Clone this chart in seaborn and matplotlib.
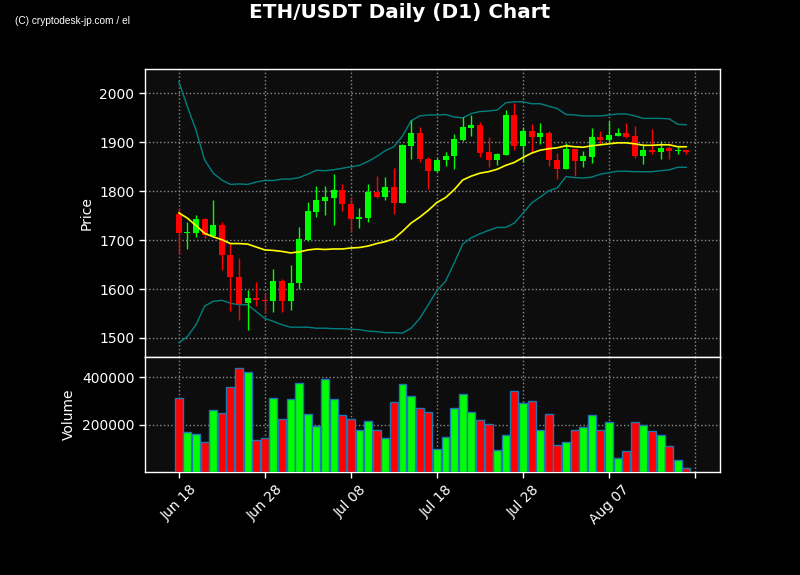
import pandas as pd
import matplotlib
matplotlib.use("Agg")
import matplotlib.pyplot as plt
import matplotlib.dates as mdates
import seaborn as sns

# --- Data ---
dates = pd.date_range("2023-06-18", periods=60, freq="D")

opens = [1754, 1714, 1714, 1744, 1709, 1731, 1669, 1625, 1571, 1582,
         1578, 1575, 1617, 1575, 1612, 1701, 1758, 1781, 1787, 1803,
         1774, 1744, 1746, 1799, 1789, 1809, 1777, 1893, 1919, 1866,
         1842, 1863, 1873, 1905, 1930, 1935, 1880, 1863, 1875, 1956,
         1893, 1923, 1911, 1919, 1864, 1846, 1886, 1861, 1871, 1911,
         1905, 1914, 1919, 1913, 1873, 1884, 1881, 1888, 1883, 1885]
closes = [1714, 1716, 1744, 1711, 1731, 1669, 1624, 1570, 1582, 1577,
          1575, 1617, 1575, 1613, 1703, 1759, 1782, 1789, 1803, 1773,
          1744, 1748, 1799, 1789, 1809, 1777, 1895, 1919, 1865, 1842,
          1864, 1873, 1907, 1931, 1935, 1879, 1863, 1876, 1956, 1893,
          1923, 1911, 1919, 1863, 1846, 1886, 1861, 1872, 1911, 1905,
          1915, 1919, 1911, 1873, 1884, 1881, 1888, 1883, 1885, 1880]
highs = [1765, 1738, 1751, 1745, 1782, 1738, 1695, 1663, 1599, 1614,
         1592, 1641, 1620, 1649, 1727, 1778, 1811, 1811, 1835, 1814,
         1789, 1765, 1814, 1831, 1829, 1847, 1897, 1946, 1931, 1871,
         1867, 1880, 1918, 1952, 1956, 1942, 1910, 1879, 1967, 1981,
         1932, 1937, 1939, 1923, 1878, 1899, 1887, 1883, 1929, 1923,
         1944, 1929, 1939, 1933, 1897, 1927, 1903, 1892, 1890, 1885]
lows = [1672, 1682, 1707, 1704, 1707, 1638, 1556, 1537, 1516, 1565,
        1551, 1553, 1553, 1558, 1600, 1699, 1747, 1751, 1731, 1760,
        1716, 1724, 1738, 1786, 1782, 1753, 1776, 1865, 1859, 1804,
        1840, 1852, 1845, 1902, 1912, 1871, 1849, 1853, 1874, 1884,
        1860, 1879, 1897, 1852, 1825, 1845, 1831, 1849, 1857, 1897,
        1899, 1914, 1908, 1869, 1855, 1876, 1865, 1865, 1877, 1876]
volumes = [310, 167, 161, 125, 261, 250, 357, 440, 423, 134,
           142, 310, 225, 307, 374, 245, 192, 390, 307, 241,
           225, 175, 216, 179, 142, 295, 370, 319, 269, 254,
           95, 146, 269, 328, 254, 221, 204, 92, 154, 341,
           291, 299, 179, 245, 113, 125, 175, 188, 241, 179,
           212, 59, 88, 212, 196, 171, 154, 109, 51, 19]
volumes = [v * 1000 for v in volumes]

sma20 = [1756, 1745, 1730, 1714, 1707, 1701, 1693, 1693, 1692, 1686,
         1680, 1679, 1677, 1674, 1676, 1680, 1682, 1681, 1682, 1682,
         1684, 1685, 1688, 1693, 1697, 1703, 1718, 1735, 1747, 1761,
         1777, 1787, 1803, 1823, 1831, 1837, 1840, 1845, 1853, 1859,
         1869, 1878, 1884, 1887, 1889, 1893, 1891, 1890, 1893, 1895,
         1897, 1899, 1899, 1897, 1894, 1894, 1895, 1895, 1891, 1891]
bb_upper = [2024, 1973, 1925, 1864, 1837, 1823, 1814, 1815, 1814, 1819,
            1822, 1822, 1825, 1825, 1828, 1835, 1843, 1842, 1844, 1847,
            1850, 1853, 1861, 1871, 1883, 1891, 1913, 1944, 1954, 1956,
            1956, 1957, 1952, 1950, 1959, 1963, 1964, 1966, 1981, 1983,
            1983, 1979, 1979, 1974, 1969, 1957, 1956, 1954, 1954, 1954,
            1956, 1958, 1958, 1954, 1949, 1949, 1949, 1948, 1937, 1936]
bb_lower = [1490, 1503, 1527, 1565, 1575, 1577, 1571, 1568, 1568, 1554,
            1540, 1534, 1527, 1522, 1522, 1522, 1520, 1520, 1519, 1519,
            1518, 1517, 1514, 1513, 1511, 1511, 1510, 1520, 1540, 1568,
            1597, 1616, 1653, 1692, 1705, 1713, 1720, 1726, 1726, 1735,
            1755, 1776, 1788, 1801, 1807, 1830, 1828, 1827, 1829, 1835,
            1838, 1841, 1841, 1840, 1840, 1840, 1842, 1844, 1849, 1849]

df = pd.DataFrame({
    "date": dates, "open": opens, "high": highs, "low": lows, "close": closes,
    "volume": volumes, "sma": sma20, "upper": bb_upper, "lower": bb_lower,
})

UP, DOWN = "#00ff00", "#ff0000"
BAND = "#008080"

# --- Style ---
sns.set_style("darkgrid", {
    "axes.facecolor": "#0d0d0d",
    "figure.facecolor": "black",
    "axes.edgecolor": "white",
    "grid.color": "#8c8c8c",
    "grid.linestyle": ":",
    "text.color": "white",
    "axes.labelcolor": "white",
    "xtick.color": "white",
    "ytick.color": "white",
})
plt.rcParams["font.family"] = ["DejaVu Sans"]

fig, (ax, axv) = plt.subplots(
    2, 1, figsize=(8, 5.75), dpi=100, sharex=True,
    gridspec_kw={"height_ratios": [288, 115], "hspace": 0},
)
fig.subplots_adjust(left=0.181, right=0.9, top=0.88, bottom=0.179)

colors = [UP if c >= o else DOWN for o, c in zip(df["open"], df["close"])]

# candles
ax.vlines(df["date"], df["low"], df["high"], colors=colors, linewidth=1, zorder=3)
body_bottom = df[["open", "close"]].min(axis=1)
body_height = (df["close"] - df["open"]).abs().clip(lower=1.5)
ax.bar(df["date"], body_height, bottom=body_bottom, width=0.7,
       color=colors, linewidth=0, zorder=4)

# bollinger bands + sma
sns.lineplot(data=df, x="date", y="upper", ax=ax, color=BAND, linewidth=1, zorder=2)
sns.lineplot(data=df, x="date", y="lower", ax=ax, color=BAND, linewidth=1, zorder=2)
sns.lineplot(data=df, x="date", y="sma", ax=ax, color="#ffff00", linewidth=1.2, zorder=5)

# volume
axv.bar(df["date"], df["volume"], width=0.92, color=colors,
        edgecolor="#1f77b4", linewidth=1, zorder=3)

for a in (ax, axv):
    a.grid(True, linestyle=":", color="#8c8c8c", linewidth=1)
    for s in a.spines.values():
        s.set_color("white")
        s.set_linewidth(1)
    a.tick_params(colors="white", labelsize=10, length=4, width=1, direction="out",
                  bottom=True, left=True)

ax.set_ylim(1461, 2050)
ax.set_yticks([1500, 1600, 1700, 1800, 1900, 2000])
ax.set_ylabel("Price", fontsize=10)
ax.set_xlabel("")

axv.set_ylim(0, max(volumes) * 1.1)
axv.set_yticks([200000, 400000])
axv.set_yticklabels(["200000", "400000"])
axv.set_ylabel("Volume", fontsize=10)
axv.set_xlabel("")

x0 = mdates.date2num(dates[0])
axv.set_xlim(x0 - 3.95, x0 + 62.9)
tick_dates = pd.date_range("2023-06-18", periods=7, freq="10D")
tick_labels = [d.strftime("%b %d") for d in tick_dates[:-1]] + [""]
axv.set_xticks(tick_dates)
axv.set_xticklabels(tick_labels, rotation=45)
ax.tick_params(labelbottom=False)

fig.text(0.5, 0.979, "ETH/USDT Daily (D1) Chart", ha="center", va="center",
         fontsize=14.4, fontweight="bold", color="white")
fig.text(0.019, 0.963, "(C) cryptodesk-jp.com / el", ha="left", va="center",
         fontsize=7.3, color="white", family=["Liberation Sans Narrow", "Liberation Sans", "DejaVu Sans"])

fig.savefig("out.png", dpi=100, facecolor=fig.get_facecolor())
